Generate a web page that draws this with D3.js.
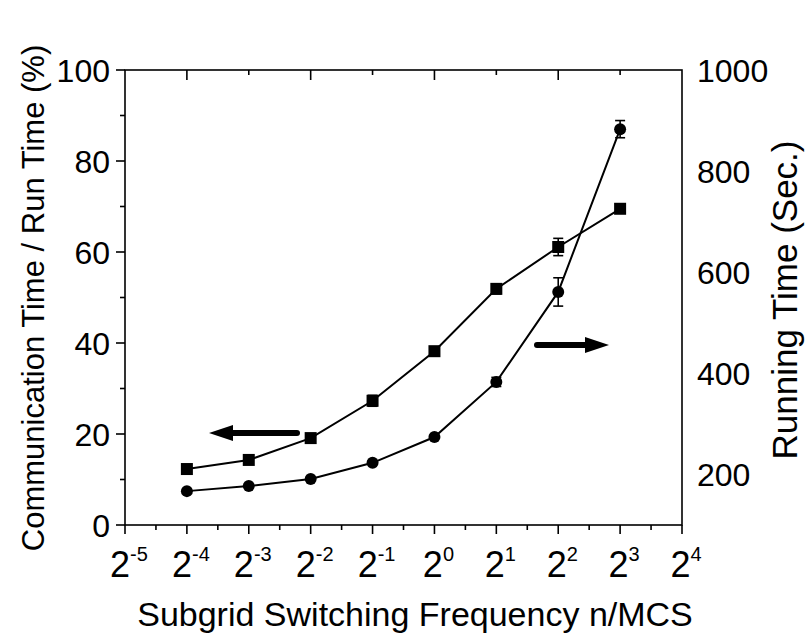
<!DOCTYPE html>
<html><head><meta charset="utf-8">
<script src="https://cdn.jsdelivr.net/npm/d3@7"></script>
<style>body{margin:0;background:#fff}text{font-family:"Liberation Sans",Arial,sans-serif;fill:#000}</style>
</head><body><svg id="c" width="811" height="639"></svg>
<script>
const exponents = [-4,-3,-2,-1,0,1,2,3];
const commPct = [12.3,14.3,19.1,27.3,38.2,51.9,61.1,69.5];
const commErr = [0.4,0.4,0.5,1.2,0.6,1.1,1.9,0.5];
const runSec = [167,177,191,223,274,383,561,883];
const runErr = [3,3,3,4,4,9,28,17];
const xTickExp = [-5,-4,-3,-2,-1,0,1,2,3,4];
const leftTicks = [0,20,40,60,80,100];
const rightTicks = [200,400,600,800,1000];

const svg = d3.select("#c");
const L=125, R=682, T=70, B=525;
const x = d3.scaleLog().base(2).domain([Math.pow(2,-5),Math.pow(2,4)]).range([L,R]);
const yL = d3.scaleLinear().domain([0,100]).range([B,T]);
const yR = d3.scaleLinear().domain([100,1000]).range([B,T]);

svg.append("rect").attr("x",L).attr("y",T).attr("width",R-L).attr("height",B-T)
  .attr("fill","none").attr("stroke","#000").attr("stroke-width",1.6);

const g = svg.append("g").attr("stroke","#000").attr("stroke-width",1.6);
xTickExp.forEach((e,i)=>{
  const px = x(Math.pow(2,e));
  g.append("line").attr("x1",px).attr("x2",px).attr("y1",B).attr("y2",B+9);
  if(i<xTickExp.length-1){
    const pm = x(Math.pow(2,e+0.5));
    g.append("line").attr("x1",pm).attr("x2",pm).attr("y1",B).attr("y2",B+5);
  }
  if(e>-5 && e<4){
    const len = (e%2===0)?10:5;
    g.append("line").attr("x1",px).attr("x2",px).attr("y1",T).attr("y2",T+len);
  }
});
d3.range(0,101,10).forEach(v=>{
  const major = v%20===0;
  g.append("line").attr("x1",L).attr("x2",L-(major?9:5)).attr("y1",yL(v)).attr("y2",yL(v));
});

xTickExp.forEach(e=>{
  const t = svg.append("text").attr("x",x(Math.pow(2,e))+4).attr("y",577)
    .attr("text-anchor","middle").style("font-size","36px");
  t.append("tspan").text("2");
  t.append("tspan").attr("dy",-16).style("font-size","20px").text(String(e));
});
leftTicks.forEach(v=>{
  svg.append("text").attr("x",110).attr("y",yL(v)).attr("dy","0.36em")
    .attr("text-anchor","end").style("font-size","32px").text(v);
});
rightTicks.forEach(v=>{
  svg.append("text").attr("x",697).attr("y",yR(v)).attr("dy","0.36em")
    .attr("text-anchor","start").style("font-size","32px").text(v);
});

svg.append("text").attr("x",415).attr("y",626).attr("text-anchor","middle")
  .style("font-size","34px").text("Subgrid Switching Frequency n/MCS");
svg.append("text").attr("transform","translate(44,298) rotate(-90)").attr("text-anchor","middle")
  .style("font-size","31px").text("Communication Time / Run Time (%)");
svg.append("text").attr("transform","translate(797,300) rotate(-90)").attr("text-anchor","middle")
  .style("font-size","35px").text("Running Time (Sec.)");

const line = (ys,sc)=>d3.line().x((d,i)=>x(Math.pow(2,exponents[i]))).y(d=>sc(d))(ys);
svg.append("path").attr("d",line(commPct,yL)).attr("fill","none").attr("stroke","#000").attr("stroke-width",2);
svg.append("path").attr("d",line(runSec,yR)).attr("fill","none").attr("stroke","#000").attr("stroke-width",2);

function errBars(vals,errs,sc){
  vals.forEach((v,i)=>{
    const px=x(Math.pow(2,exponents[i])), y1=sc(v+errs[i]), y2=sc(v-errs[i]);
    if(Math.abs(y2-y1)<6) return;
    g.append("line").attr("x1",px).attr("x2",px).attr("y1",y1).attr("y2",y2);
    g.append("line").attr("x1",px-5).attr("x2",px+5).attr("y1",y1).attr("y2",y1);
    g.append("line").attr("x1",px-5).attr("x2",px+5).attr("y1",y2).attr("y2",y2);
  });
}
errBars(commPct,commErr,yL);
errBars(runSec,runErr,yR);

svg.selectAll(".sq").data(commPct).enter().append("rect")
  .attr("x",(d,i)=>x(Math.pow(2,exponents[i]))-6).attr("y",d=>yL(d)-6)
  .attr("width",12).attr("height",12).attr("fill","#000");
svg.selectAll(".ci").data(runSec).enter().append("circle")
  .attr("cx",(d,i)=>x(Math.pow(2,exponents[i]))).attr("cy",d=>yR(d)).attr("r",6).attr("fill","#000");

function arrow(xs,xe,y){
  const dir = Math.sign(xe-xs);
  svg.append("line").attr("x1",xs).attr("x2",xe-dir*18).attr("y1",y).attr("y2",y)
    .attr("stroke","#000").attr("stroke-width",6).attr("stroke-linecap","round");
  svg.append("path").attr("d",`M${xe},${y} L${xe-dir*24},${y-8} L${xe-dir*24},${y+8} Z`).attr("fill","#000");
}
arrow(297,209,433);
arrow(537,609,345);
</script></body></html>
